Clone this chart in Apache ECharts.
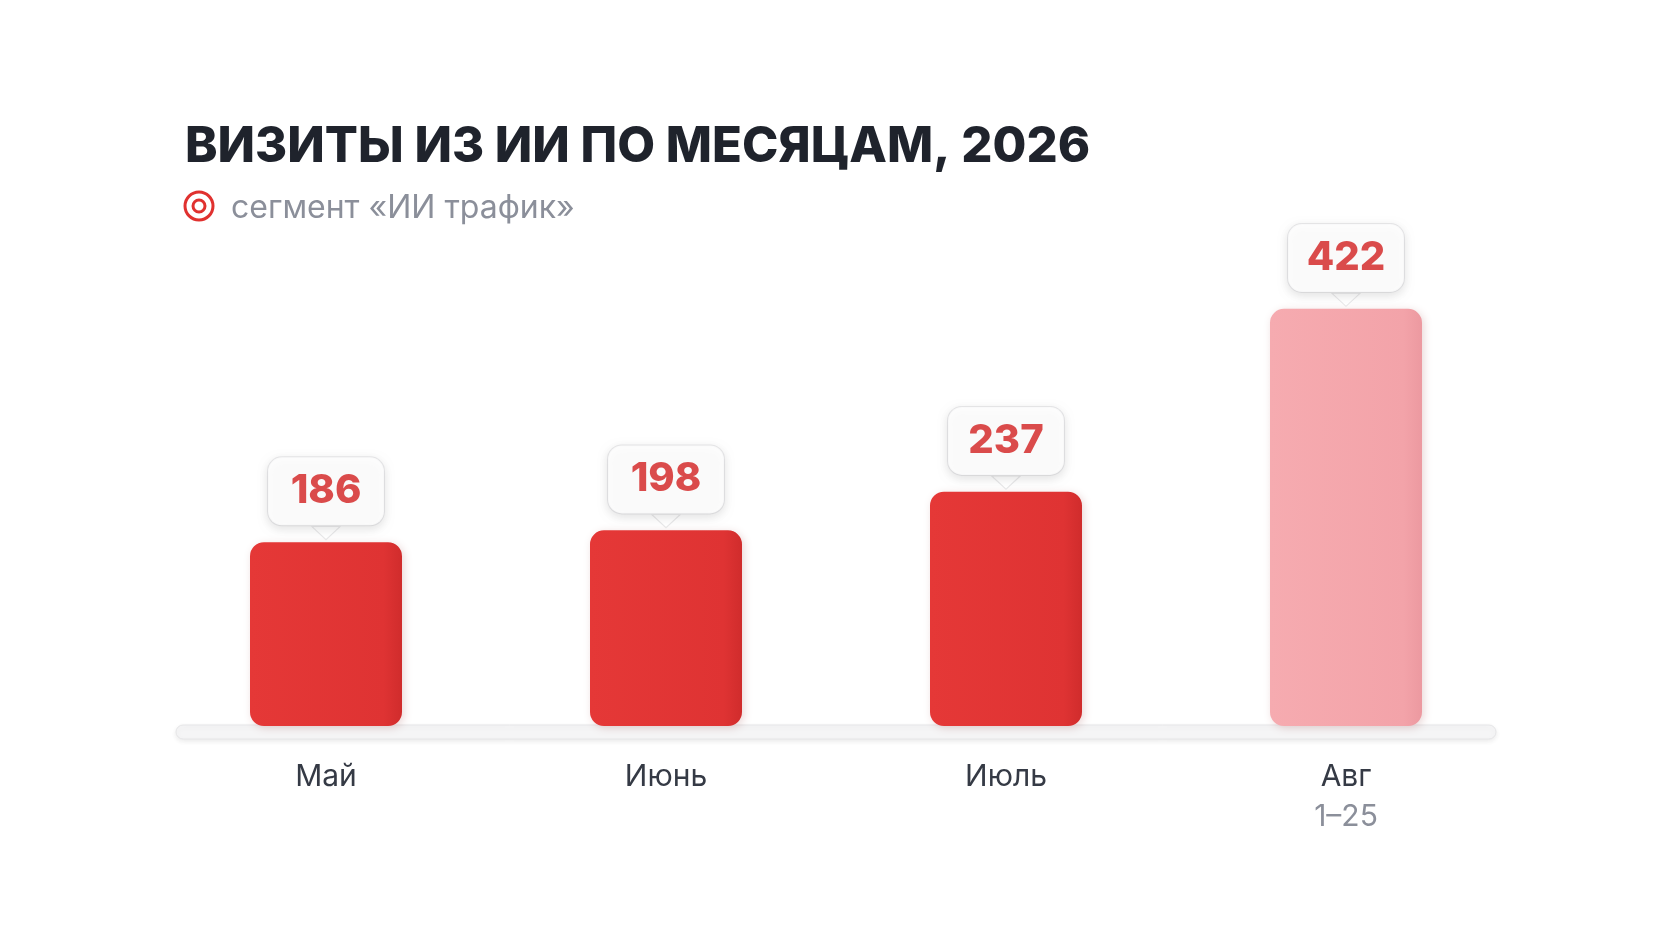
<!DOCTYPE html>
<html>
<head>
<meta charset="utf-8">
<style>
  html, body { margin: 0; padding: 0; background: #fff; }
  #chart { width: 1672px; height: 941px; }
</style>
<script src="https://cdn.jsdelivr.net/npm/echarts@6/dist/echarts.min.js"></script>
</head>
<body>
<div id="chart"></div>
<script>
// данные
var months = ['Май', 'Июнь', 'Июль', 'Авг'];
var monthNotes = ['', '', '', '1–25'];
var visits = [186, 198, 237, 422];
var partial = [false, false, false, true];

var RED = '#e0312f';
var FONT = 'Inter, Roboto, "Noto Sans", sans-serif';

function barFill(isPartial) {
	// лёгкий объём: правый край чуть темнее
	var c = isPartial ? ['#f6abb0', '#f3a3a9', '#ec99a0'] : ['#e53837', '#df3333', '#d02c2c'];
	return new echarts.graphic.LinearGradient(0, 0, 1, 0, [
		{ offset: 0, color: c[0] },
		{ offset: 0.88, color: c[1] },
		{ offset: 1, color: c[2] }
	]);
}

var chart = echarts.init(document.getElementById('chart'));

var barData = visits.map(function (v, i) {
	return { value: v, itemStyle: { color: barFill(partial[i]) } };
});

var option = {
	backgroundColor: '#ffffff',
	title: [{
		text: 'ВИЗИТЫ ИЗ ИИ ПО МЕСЯЦАМ, 2026',
		left: 180, top: 118,
		textStyle: { fontFamily: FONT, fontSize: 49, fontWeight: 800, color: '#1f232c' }
	}, {
		text: 'сегмент «ИИ трафик»',
		left: 226, top: 187,
		textStyle: { fontFamily: FONT, fontSize: 32, fontWeight: 400, color: '#8b8f9a' }
	}],
	graphic: [{
		// подставка под столбцы
		type: 'rect', z: 0,
		shape: { x: 176, y: 725, width: 1320, height: 14, r: 7 },
		style: { fill: '#f5f5f6', stroke: '#e6e6e8', lineWidth: 1, shadowBlur: 5, shadowColor: 'rgba(0,0,0,0.08)', shadowOffsetY: 2 }
	}, {
		type: 'circle', shape: { cx: 199, cy: 206, r: 14 },
		style: { fill: 'none', stroke: RED, lineWidth: 3 }
	}, {
		type: 'circle', shape: { cx: 199, cy: 206, r: 6 },
		style: { fill: 'none', stroke: RED, lineWidth: 3 }
	}],
	grid: { left: 156, width: 1360, top: 296, bottom: 941 - 726 },
	xAxis: {
		type: 'category',
		data: months,
		axisLine: { show: false },
		axisTick: { show: false },
		axisLabel: {
			margin: 31,
			formatter: function (val, idx) {
				var n = monthNotes[idx];
				return n ? '{m|' + val + '}\n{n|' + n + '}' : '{m|' + val + '}';
			},
			rich: {
				m: { fontFamily: FONT, fontSize: 30, color: '#353a45', lineHeight: 40 },
				n: { fontFamily: FONT, fontSize: 30, color: '#8b8f9a', lineHeight: 40 }
			}
		}
	},
	yAxis: {
		type: 'value', min: 0, max: 435,
		show: false,
		splitLine: { show: false }
	},
	series: [{
		type: 'bar',
		data: barData,
		barWidth: 152,
		z: 2,
		itemStyle: {
			borderRadius: 14,
			shadowBlur: 8,
			shadowColor: 'rgba(120,0,0,0.16)',
			shadowOffsetX: 2,
			shadowOffsetY: 2
		}
	}, {
		// хвостик выноски
		type: 'scatter',
		data: visits,
		symbol: 'path://M0,0 L28,0 L14,13 Z',
		symbolSize: [28, 13],
		symbolOffset: [0, -9],
		itemStyle: { color: '#ffffff', borderColor: '#e2e2e4', borderWidth: 1 },
		z: 5,
		label: {
			show: true,
			position: 'top',
			distance: 1,
			formatter: '{v|{c}}',
			backgroundColor: '#ffffff',
			borderColor: '#e4e4e6',
			borderWidth: 1,
			borderRadius: 14,
			padding: [14, 20, 14, 20],
			width: 76,
			align: 'center',
			shadowBlur: 10,
			shadowColor: 'rgba(0,0,0,0.12)',
			shadowOffsetY: 3,
			rich: {
				v: { fontFamily: FONT, fontSize: 40, fontWeight: 800, color: '#d21f1f', lineHeight: 40, align: 'center' }
			}
		}
	}]
};

chart.setOption(option);
</script>
</body>
</html>
